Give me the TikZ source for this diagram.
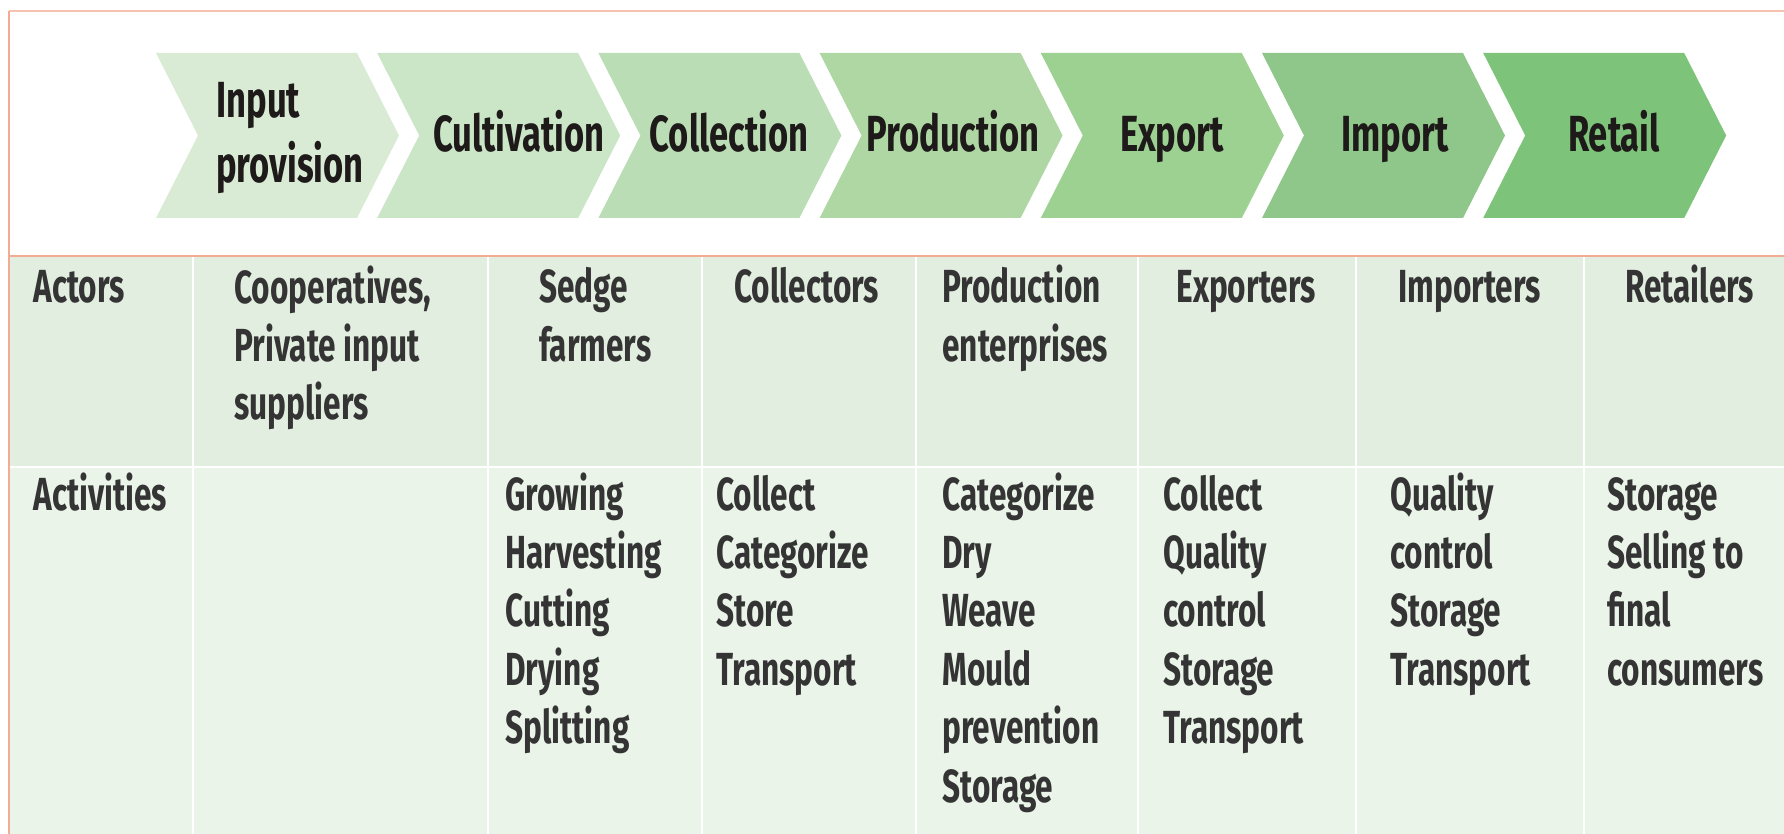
\documentclass[tikz,border=0pt]{standalone}
\usepackage{fontspec}
\setmainfont{Fira Sans}[FakeStretch=0.68]
\definecolor{cA}{HTML}{D9EBD5}
\definecolor{cB}{HTML}{CBE5C7}
\definecolor{cC}{HTML}{BBDDB5}
\definecolor{cD}{HTML}{AED7A4}
\definecolor{cE}{HTML}{9CD192}
\definecolor{cF}{HTML}{8FC78A}
\definecolor{cG}{HTML}{7DC47A}
\definecolor{rowone}{HTML}{E2EEDF}
\definecolor{rowtwo}{HTML}{EAF4E9}
\definecolor{salmon}{HTML}{F3AC93}
\definecolor{salmonlight}{HTML}{F7C2B0}
\definecolor{chevtext}{HTML}{1E1A1A}
\definecolor{celltext}{HTML}{343434}
\tikzset{
  chevlabel/.style={inner sep=0pt, anchor=base, align=center, text=chevtext,
    font=\fontsize{25.4}{32.5}\selectfont\bfseries},
  cell/.style={inner sep=0pt, anchor=base west, align=left, text=celltext,
    font=\fontsize{23.2}{29.2}\selectfont\bfseries},
  sepline/.style={white, line width=1.1pt},
  borderline/.style={salmon, line width=1.4pt},
}
\begin{document}
\begin{tikzpicture}[x=0.5pt,y=-0.5pt]
\useasboundingbox (0,0) rectangle (1784,834);
% table backgrounds
\fill[rowone] (9,256) rectangle (1784,467);
\fill[rowtwo] (9,467) rectangle (1784,834);
\foreach \x in {193,488,702,916,1138,1356,1584}
  \draw[sepline] (\x,257) -- (\x,834);
\draw[sepline] (9,467) -- (1784,467);
% borders
\draw[salmonlight, line width=1.4pt] (9,11) -- (1784,11);
\draw[borderline] (9,11) -- (9,834);
\draw[borderline] (9,256) -- (1784,256);
% chevrons
\foreach \i/\c in {0/cA,1/cB,2/cC,3/cD,4/cE,5/cF,6/cG}{
  \pgfmathsetmacro\L{156+221.2*\i}
  \fill[\c] (\L,53) -- ++(201,0) -- ++(42,82.5) -- ++(-42,82.5) -- ++(-201,0) -- ++(42,-82.5) -- cycle;
}
% (base anchor of a multi-line node = baseline of its last line)
\node[chevlabel, align=left] (input) at (290,183) {Input\\provision};
\node[chevlabel] (cultivation) at (519,152) {Cultivation};
\node[chevlabel] (collection) at (729,152) {Collection};
\node[chevlabel] (production) at (953,152) {Production};
\node[chevlabel] (export) at (1172,152) {Export};
\node[chevlabel] (import) at (1395,152) {Import};
\node[chevlabel] (retail) at (1614,152) {Retail};
% table text
\node[cell] (actors) at (33,303) {Actors};
\node[cell] (activities) at (33,510) {Activities};
\node[cell] (a1) at (234,419.8) {Cooperatives,\\Private input\\suppliers};
\node[cell] (a2) at (539,361.4) {Sedge\\farmers};
\node[cell] (a3) at (734,303) {Collectors};
\node[cell] (a4) at (942,361.4) {Production\\enterprises};
\node[cell] (a5) at (1176,303) {Exporters};
\node[cell] (a6) at (1398,303) {Importers};
\node[cell] (a7) at (1625,303) {Retailers};
\node[cell] (b2) at (505,743.6) {Growing\\Harvesting\\Cutting\\Drying\\Splitting};
\node[cell] (b3) at (716,685.2) {Collect\\Categorize\\Store\\Transport};
\node[cell] (b4) at (942,802) {Categorize\\Dry\\Weave\\Mould\\prevention\\Storage};
\node[cell] (b5) at (1163,743.6) {Collect\\Quality\\control\\Storage\\Transport};
\node[cell] (b6) at (1390,685.2) {Quality\\control\\Storage\\Transport};
\node[cell] (b7) at (1607,685.2) {Storage\\Selling to\\final\\consumers};
\end{tikzpicture}
\end{document}
